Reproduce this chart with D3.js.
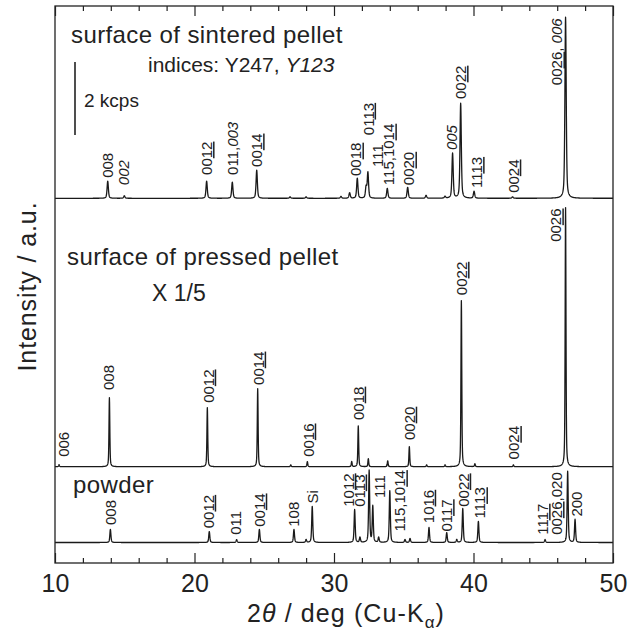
<!DOCTYPE html>
<html>
<head>
<meta charset="utf-8">
<script src="https://cdn.jsdelivr.net/npm/d3@7"></script>
<style>
  body { margin: 0; background: #fff; }
  svg { display: block; }
  text { font-family: "Liberation Sans", Arial, Helvetica, sans-serif; fill: #222; }
</style>
</head>
<body>
<svg id="chart" width="637" height="632"></svg>
<script>
// ---- 2θ axis ----
const xDomain = [10, 50];
const xMajorTicks = [10, 20, 30, 40, 50];
const xMinorTicks = [12, 14, 16, 18, 22, 24, 26, 28, 32, 34, 36, 38, 42, 44, 46, 48];

// ---- surface of sintered pellet (kcps) ----
const sinteredPos = [13.78, 14.97, 20.87, 22.71, 24.46, 26.85, 28.0, 30.5, 31.12, 31.67, 32.30, 32.43, 33.82, 35.28, 36.6, 37.96, 38.50, 39.08, 40.04, 42.80, 46.60];
const sinteredInt = [0.47, 0.07, 0.47, 0.44, 0.77, 0.04, 0.04, 0.05, 0.15, 0.55, 0.30, 0.70, 0.27, 0.30, 0.08, 0.05, 1.23, 2.60, 0.19, 0.04, 4.96];
const sinteredFwhm = 0.11;
const sinteredLabels = ["008", "*002*", "00_12_", "011,*003*", "00_14_", "00_18_", "01_13_", "111", "115,10_14_", "00_20_", "*005*", "00_22_", "11_13_", "00_24_", "00_26_, *006*"];
const sinteredLabelPos = [13.76, 14.95, 20.87, 22.70, 24.46, 31.58, 32.45, 33.14, 33.94, 35.38, 38.43, 39.08, 40.23, 42.86, 45.99];
const sinteredLabelAt = [0.56, 0.36, 0.64, 0.64, 0.86, 0.61, 1.73, 0.86, 0.36, 0.36, 1.32, 2.72, 0.28, 0.15, 3.10];

// ---- surface of pressed pellet (kcps, drawn at x 1/5) ----
const pressedScale = 1 / 5;
const pressedPos = [10.29, 13.90, 20.92, 24.53, 26.9, 28.09, 31.27, 31.74, 32.46, 33.85, 35.40, 36.64, 37.96, 39.13, 40.10, 42.86, 46.60];
const pressedInt = [0.28, 9.45, 8.10, 10.70, 0.25, 0.70, 0.70, 5.60, 1.10, 0.80, 2.75, 0.25, 0.25, 22.75, 0.40, 0.25, 35.5];
const pressedFwhm = 0.07;
const pressedLabels = ["006", "008", "00_12_", "00_14_", "00_16_", "00_18_", "00_20_", "00_22_", "00_24_", "00_26_"];
const pressedLabelPos = [10.60, 13.82, 20.99, 24.57, 28.16, 31.74, 35.40, 39.15, 42.90, 45.91];
const pressedLabelAt = [1.35, 10.5, 8.75, 11.2, 1.35, 6.4, 3.65, 23.5, 1.0, 30.8];

// ---- powder (kcps) ----
const powderPos = [13.97, 21.06, 23.02, 24.65, 27.13, 28.0, 28.44, 31.48, 31.86, 32.52, 32.78, 33.20, 34.00, 35.09, 35.45, 36.81, 38.08, 38.80, 39.23, 40.35, 45.13, 46.75, 47.28];
const powderInt = [0.36, 0.30, 0.08, 0.36, 0.36, 0.08, 0.99, 0.90, 0.14, 1.97, 0.99, 0.14, 1.42, 0.08, 0.11, 0.41, 0.27, 0.08, 0.93, 0.58, 0.08, 1.95, 0.63];
const powderFwhm = 0.09;
const powderLabels = ["008", "00_12_", "011", "00_14_", "108", "Si", "10_12_", "01_13_", "111", "115,10_14_", "10_16_", "01_17_", "00_22_", "11_13_", "11_17_", "00_26_,020", "200"];
const powderLabelPos = [14.01, 20.99, 22.95, 24.65, 27.08, 28.47, 31.03, 31.81, 33.30, 34.73, 36.76, 38.08, 39.27, 40.47, 44.96, 45.96, 47.40];
const powderLabelAt = [0.48, 0.39, 0.21, 0.43, 0.43, 1.07, 0.98, 0.98, 1.22, 0.30, 0.53, 0.30, 0.98, 0.66, 0.21, 0.21, 0.71];

// ---- layout ----
const width = 637, height = 632;
const frame = { left: 55, right: 613, top: 6, bottom: 563 };
const pxPer2kcps = 73;

const svg = d3.select("#chart");
const x = d3.scaleLinear().domain(xDomain).range([frame.left, frame.right]);

function panelScale(base) {
  return d3.scaleLinear().domain([0, 2]).range([base, base - pxPer2kcps]);
}

const panels = [
  { pos: sinteredPos, amp: sinteredInt, fwhm: sinteredFwhm, factor: 1, y: panelScale(198.3),
    labels: sinteredLabels, labelPos: sinteredLabelPos, labelAt: sinteredLabelAt },
  { pos: pressedPos, amp: pressedInt, fwhm: pressedFwhm, factor: pressedScale, y: panelScale(466.7),
    labels: pressedLabels, labelPos: pressedLabelPos, labelAt: pressedLabelAt },
  { pos: powderPos, amp: powderInt, fwhm: powderFwhm, factor: 1, y: panelScale(542.5),
    labels: powderLabels, labelPos: powderLabelPos, labelAt: powderLabelAt }
];

// pseudo-Voigt peak shape, unit height
function peakShape(d, w) {
  const r = 4 * d * d / (w * w);
  return 0.5 * Math.exp(-Math.LN2 * r) + 0.5 / (1 + r);
}

function profile(p) {
  const grid = d3.range(xDomain[0], xDomain[1] + 1e-9, 0.01).concat(p.pos).sort((a, b) => a - b);
  return grid.map(t => [t, d3.sum(p.pos, (c, i) => p.amp[i] * peakShape(t - c, p.fwhm)) * p.factor]);
}

// clip traces to the frame
svg.append("defs").append("clipPath").attr("id", "plotClip")
  .append("rect").attr("x", frame.left).attr("y", frame.top)
  .attr("width", frame.right - frame.left).attr("height", frame.bottom - frame.top);

const traces = svg.append("g").attr("clip-path", "url(#plotClip)");
panels.forEach(p => {
  const line = d3.line().x(d => x(d[0])).y(d => p.y(d[1]));
  traces.append("path")
    .datum(profile(p))
    .attr("fill", "none")
    .attr("stroke", "#1a1a1a")
    .attr("stroke-width", 1.3)
    .attr("stroke-linejoin", "round")
    .attr("d", line);
});

// reflection labels: _..._ underlined, *...* italic
function addRich(textSel, str) {
  str.split(/(_[^_]+_|\*[^*]+\*)/).filter(s => s.length).forEach(s => {
    const ts = textSel.append("tspan");
    if (s[0] === "_") ts.style("text-decoration", "underline").text(s.slice(1, -1));
    else if (s[0] === "*") ts.style("font-style", "italic").text(s.slice(1, -1));
    else ts.text(s);
  });
}

const labelLayer = svg.append("g").attr("font-size", 15);
panels.forEach(p => {
  p.labels.forEach((lab, i) => {
    const t = labelLayer.append("text")
      .attr("transform", `translate(${x(p.labelPos[i])},${p.y(p.labelAt[i] * p.factor)}) rotate(-90)`)
      .attr("dy", "0.36em")
      .attr("text-anchor", "start");
    addRich(t, lab);
  });
});

// frame
svg.append("rect")
  .attr("x", frame.left).attr("y", frame.top)
  .attr("width", frame.right - frame.left).attr("height", frame.bottom - frame.top)
  .attr("fill", "none").attr("stroke", "#222").attr("stroke-width", 1.3);

// inward ticks on top and bottom edges
function ticks(axisFn, yPos, values, size, withLabels) {
  const ax = axisFn(x).tickValues(values).tickSizeInner(-size).tickSizeOuter(0).tickPadding(11);
  if (!withLabels) ax.tickFormat("");
  const g = svg.append("g").attr("transform", `translate(0,${yPos})`).call(ax);
  g.select(".domain").remove();
  g.selectAll(".tick line").attr("stroke", "#222").attr("stroke-width", 1.2);
  g.selectAll(".tick text").attr("font-size", 25).attr("fill", "#222")
    .attr("font-family", '"Liberation Sans", Arial, sans-serif');
  return g;
}
ticks(d3.axisBottom, frame.bottom, xMajorTicks, 10, true);
ticks(d3.axisBottom, frame.bottom, xMinorTicks, 5, false);
ticks(d3.axisTop, frame.top, xMajorTicks, 10, false);
ticks(d3.axisTop, frame.top, xMinorTicks, 5, false);

// axis titles
const xTitle = svg.append("text").attr("x", 247).attr("y", 622)
  .attr("font-size", 25).attr("letter-spacing", 1.1);
xTitle.append("tspan").text("2");
xTitle.append("tspan").attr("font-style", "italic").text("θ");
xTitle.append("tspan").text(" / deg (Cu-K");
xTitle.append("tspan").attr("font-size", 17).attr("dy", 6).text("α");
xTitle.append("tspan").attr("dy", -6).text(")");

svg.append("text")
  .attr("transform", "translate(36,286.5) rotate(-90)")
  .attr("text-anchor", "middle")
  .attr("font-size", 25).attr("letter-spacing", 0.9)
  .text("Intensity / a.u.");

// panel captions
svg.append("text").attr("x", 71).attr("y", 43).attr("font-size", 24).attr("letter-spacing", 0.4)
  .text("surface of sintered pellet");
const idx = svg.append("text").attr("x", 148).attr("y", 72).attr("font-size", 21);
idx.append("tspan").text("indices: Y247, ");
idx.append("tspan").attr("font-style", "italic").text("Y123");

svg.append("text").attr("x", 67).attr("y", 265).attr("font-size", 24).attr("letter-spacing", 0.4)
  .text("surface of pressed pellet");
svg.append("text").attr("x", 152).attr("y", 301).attr("font-size", 23).text("X 1/5");
svg.append("text").attr("x", 73).attr("y", 493).attr("font-size", 24).attr("letter-spacing", 0.4)
  .text("powder");

// 2 kcps scale bar, drawn with the sintered-pellet scale
const ys = panels[0].y;
const barTop = 62;
svg.append("line")
  .attr("x1", 75).attr("x2", 75)
  .attr("y1", barTop).attr("y2", barTop + (ys(0) - ys(2)))
  .attr("stroke", "#222").attr("stroke-width", 1.6);
svg.append("text").attr("x", 84).attr("y", 107).attr("font-size", 19).text("2 kcps");
</script>
</body>
</html>
